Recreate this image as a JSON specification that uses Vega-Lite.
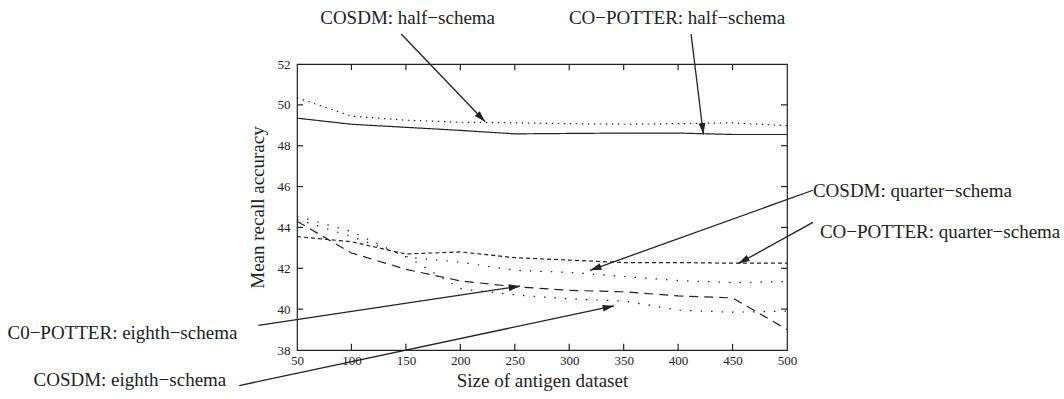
{
  "$schema": "https://vega.github.io/schema/vega-lite/v6.json",
  "width": 490,
  "height": 286,
  "autosize": "none",
  "padding": {"left": 297, "top": 64, "right": 277, "bottom": 49},
  "background": "white",
  "config": {
    "view": {"stroke": "#222", "strokeWidth": 1.2},
    "font": "Liberation Serif",
    "axis": {
      "labelFont": "Liberation Serif",
      "titleFont": "Liberation Serif",
      "labelColor": "#222",
      "titleColor": "#222",
      "labelFontSize": 13,
      "titleFontSize": 19,
      "titleFontWeight": "normal",
      "labelFlush": false,
      "grid": false,
      "domain": false,
      "ticks": false
    }
  },
  "datasets": {
    "results": [
      {"size": 50, "acc": 49.35, "run": "CO−POTTER: half−schema"},
      {"size": 100, "acc": 49.05, "run": "CO−POTTER: half−schema"},
      {"size": 150, "acc": 48.9, "run": "CO−POTTER: half−schema"},
      {"size": 200, "acc": 48.75, "run": "CO−POTTER: half−schema"},
      {"size": 250, "acc": 48.58, "run": "CO−POTTER: half−schema"},
      {"size": 300, "acc": 48.6, "run": "CO−POTTER: half−schema"},
      {"size": 350, "acc": 48.62, "run": "CO−POTTER: half−schema"},
      {"size": 400, "acc": 48.62, "run": "CO−POTTER: half−schema"},
      {"size": 450, "acc": 48.55, "run": "CO−POTTER: half−schema"},
      {"size": 500, "acc": 48.55, "run": "CO−POTTER: half−schema"},
      {"size": 50, "acc": 50.35, "run": "COSDM: half−schema"},
      {"size": 100, "acc": 49.45, "run": "COSDM: half−schema"},
      {"size": 150, "acc": 49.25, "run": "COSDM: half−schema"},
      {"size": 200, "acc": 49.15, "run": "COSDM: half−schema"},
      {"size": 250, "acc": 49.12, "run": "COSDM: half−schema"},
      {"size": 300, "acc": 49.08, "run": "COSDM: half−schema"},
      {"size": 350, "acc": 49.05, "run": "COSDM: half−schema"},
      {"size": 400, "acc": 49.08, "run": "COSDM: half−schema"},
      {"size": 450, "acc": 49.12, "run": "COSDM: half−schema"},
      {"size": 500, "acc": 48.98, "run": "COSDM: half−schema"},
      {"size": 50, "acc": 43.55, "run": "CO−POTTER: quarter−schema"},
      {"size": 100, "acc": 43.3, "run": "CO−POTTER: quarter−schema"},
      {"size": 150, "acc": 42.7, "run": "CO−POTTER: quarter−schema"},
      {"size": 200, "acc": 42.8, "run": "CO−POTTER: quarter−schema"},
      {"size": 250, "acc": 42.52, "run": "CO−POTTER: quarter−schema"},
      {"size": 300, "acc": 42.4, "run": "CO−POTTER: quarter−schema"},
      {"size": 350, "acc": 42.28, "run": "CO−POTTER: quarter−schema"},
      {"size": 400, "acc": 42.28, "run": "CO−POTTER: quarter−schema"},
      {"size": 450, "acc": 42.25, "run": "CO−POTTER: quarter−schema"},
      {"size": 500, "acc": 42.25, "run": "CO−POTTER: quarter−schema"},
      {"size": 50, "acc": 44.55, "run": "COSDM: quarter−schema"},
      {"size": 100, "acc": 43.8, "run": "COSDM: quarter−schema"},
      {"size": 150, "acc": 42.55, "run": "COSDM: quarter−schema"},
      {"size": 200, "acc": 42.3, "run": "COSDM: quarter−schema"},
      {"size": 250, "acc": 41.9, "run": "COSDM: quarter−schema"},
      {"size": 300, "acc": 41.8, "run": "COSDM: quarter−schema"},
      {"size": 350, "acc": 41.6, "run": "COSDM: quarter−schema"},
      {"size": 400, "acc": 41.4, "run": "COSDM: quarter−schema"},
      {"size": 450, "acc": 41.3, "run": "COSDM: quarter−schema"},
      {"size": 500, "acc": 41.35, "run": "COSDM: quarter−schema"},
      {"size": 50, "acc": 44.3, "run": "C0−POTTER: eighth−schema"},
      {"size": 100, "acc": 42.75, "run": "C0−POTTER: eighth−schema"},
      {"size": 150, "acc": 41.95, "run": "C0−POTTER: eighth−schema"},
      {"size": 200, "acc": 41.38, "run": "C0−POTTER: eighth−schema"},
      {"size": 250, "acc": 41.1, "run": "C0−POTTER: eighth−schema"},
      {"size": 300, "acc": 40.92, "run": "C0−POTTER: eighth−schema"},
      {"size": 350, "acc": 40.85, "run": "C0−POTTER: eighth−schema"},
      {"size": 400, "acc": 40.65, "run": "C0−POTTER: eighth−schema"},
      {"size": 450, "acc": 40.55, "run": "C0−POTTER: eighth−schema"},
      {"size": 500, "acc": 39.0, "run": "C0−POTTER: eighth−schema"},
      {"size": 50, "acc": 44.4, "run": "COSDM: eighth−schema"},
      {"size": 100, "acc": 43.55, "run": "COSDM: eighth−schema"},
      {"size": 150, "acc": 42.6, "run": "COSDM: eighth−schema"},
      {"size": 200, "acc": 41.0, "run": "COSDM: eighth−schema"},
      {"size": 250, "acc": 40.7, "run": "COSDM: eighth−schema"},
      {"size": 300, "acc": 40.5, "run": "COSDM: eighth−schema"},
      {"size": 350, "acc": 40.4, "run": "COSDM: eighth−schema"},
      {"size": 400, "acc": 39.95, "run": "COSDM: eighth−schema"},
      {"size": 450, "acc": 39.85, "run": "COSDM: eighth−schema"},
      {"size": 500, "acc": 39.9, "run": "COSDM: eighth−schema"}
    ],
    "sizeTicks": [
      {"size": 100}, {"size": 150}, {"size": 200}, {"size": 250},
      {"size": 300}, {"size": 350}, {"size": 400}, {"size": 450}
    ],
    "accTicks": [
      {"acc": 40}, {"acc": 42}, {"acc": 44}, {"acc": 46}, {"acc": 48}, {"acc": 50}
    ],
    "callouts": [
      {"run": "COSDM: half−schema", "fromSize": 145.7, "fromAcc": 53.47, "toSize": 222.8, "toAcc": 49.17},
      {"run": "CO−POTTER: half−schema", "fromSize": 411.9, "fromAcc": 53.47, "toSize": 423.2, "toAcc": 48.55},
      {"run": "COSDM: quarter−schema", "fromSize": 523.8, "fromAcc": 45.82, "toSize": 319.2, "toAcc": 41.9},
      {"run": "CO−POTTER: quarter−schema", "fromSize": 523.8, "fromAcc": 44.25, "toSize": 455.3, "toAcc": 42.23},
      {"run": "C0−POTTER: eighth−schema", "fromSize": 14.5, "fromAcc": 39.21, "toSize": 254.9, "toAcc": 41.13},
      {"run": "COSDM: eighth−schema", "fromSize": -3.0, "fromAcc": 36.26, "toSize": 341.2, "toAcc": 40.16}
    ],
    "topNotes": [
      {"run": "COSDM: half−schema", "size": 151.6, "acc": 54.25},
      {"run": "CO−POTTER: half−schema", "size": 399.0, "acc": 54.25}
    ],
    "sideNotes": [
      {"run": "COSDM: quarter−schema", "size": 523.8, "acc": 45.79},
      {"run": "CO−POTTER: quarter−schema", "size": 530.2, "acc": 43.78},
      {"run": "C0−POTTER: eighth−schema", "size": -215.9, "acc": 38.81},
      {"run": "COSDM: eighth−schema", "size": -192.0, "acc": 36.51}
    ]
  },
  "layer": [
    {
      "data": {"name": "results"},
      "mark": {"type": "line", "strokeWidth": 1.2, "color": "#222", "clip": false},
      "encoding": {
        "x": {
          "field": "size", "type": "quantitative",
          "scale": {"domain": [50, 500], "nice": false, "zero": false},
          "axis": {"values": [50, 100, 150, 200, 250, 300, 350, 400, 450, 500], "labelPadding": 4, "title": "Size of antigen dataset", "titlePadding": 4}
        },
        "y": {
          "field": "acc", "type": "quantitative",
          "scale": {"domain": [38, 52], "nice": false, "zero": false},
          "axis": {"values": [38, 40, 42, 44, 46, 48, 50, 52], "labelPadding": 7, "title": "Mean recall accuracy", "titlePadding": 10}
        },
        "detail": {"field": "run", "type": "nominal"},
        "strokeDash": {
          "field": "run", "type": "nominal", "legend": null,
          "scale": {
            "domain": ["CO−POTTER: half−schema", "COSDM: half−schema", "CO−POTTER: quarter−schema", "COSDM: quarter−schema", "C0−POTTER: eighth−schema", "COSDM: eighth−schema"],
            "range": [[1, 0], [1.5, 4.5], [4, 3], [1.5, 9], [9, 6], [1.5, 9]]
          }
        }
      }
    },
    {
      "data": {"name": "sizeTicks"},
      "mark": {"type": "rule", "strokeWidth": 1.2, "color": "#222"},
      "encoding": {
        "x": {"field": "size", "type": "quantitative", "axis": null},
        "y": {"datum": 38, "axis": null},
        "y2": {"datum": 38.3}
      }
    },
    {
      "data": {"name": "sizeTicks"},
      "mark": {"type": "rule", "strokeWidth": 1.2, "color": "#222"},
      "encoding": {
        "x": {"field": "size", "type": "quantitative", "axis": null},
        "y": {"datum": 52, "axis": null},
        "y2": {"datum": 51.7}
      }
    },
    {
      "data": {"name": "accTicks"},
      "mark": {"type": "rule", "strokeWidth": 1.2, "color": "#222"},
      "encoding": {
        "y": {"field": "acc", "type": "quantitative", "axis": null},
        "x": {"datum": 50, "axis": null},
        "x2": {"datum": 55.5}
      }
    },
    {
      "data": {"name": "accTicks"},
      "mark": {"type": "rule", "strokeWidth": 1.2, "color": "#222"},
      "encoding": {
        "y": {"field": "acc", "type": "quantitative", "axis": null},
        "x": {"datum": 500, "axis": null},
        "x2": {"datum": 494.5}
      }
    },
    {
      "data": {"name": "callouts"},
      "mark": {"type": "rule", "strokeWidth": 1.3, "color": "#222", "clip": false},
      "encoding": {
        "x": {"field": "fromSize", "type": "quantitative", "axis": null},
        "y": {"field": "fromAcc", "type": "quantitative", "axis": null},
        "x2": {"field": "toSize"},
        "y2": {"field": "toAcc"}
      }
    },
    {
      "data": {"name": "callouts"},
      "mark": {"type": "point", "shape": "M0,0L-0.3,1L0.3,1Z", "filled": true, "color": "#222", "opacity": 1, "size": 520, "clip": false},
      "encoding": {
        "x": {"field": "toSize", "type": "quantitative", "axis": null},
        "y": {"field": "toAcc", "type": "quantitative", "axis": null},
        "angle": {
          "field": "run", "type": "nominal", "legend": null,
          "scale": {
            "type": "ordinal",
            "domain": ["COSDM: half−schema", "CO−POTTER: half−schema", "COSDM: quarter−schema", "CO−POTTER: quarter−schema", "C0−POTTER: eighth−schema", "COSDM: eighth−schema"],
            "range": [136.2, 173, 250.3, 241.1, 81.5, 78]
          }
        }
      }
    },
    {
      "data": {"name": "topNotes"},
      "mark": {"type": "text", "align": "center", "baseline": "middle", "fontSize": 19, "font": "Liberation Serif", "color": "#222", "clip": false},
      "encoding": {
        "x": {"field": "size", "type": "quantitative", "axis": null},
        "y": {"field": "acc", "type": "quantitative", "axis": null},
        "text": {"field": "run"}
      }
    },
    {
      "data": {"name": "sideNotes"},
      "mark": {"type": "text", "align": "left", "baseline": "middle", "fontSize": 19, "font": "Liberation Serif", "color": "#222", "clip": false},
      "encoding": {
        "x": {"field": "size", "type": "quantitative", "axis": null},
        "y": {"field": "acc", "type": "quantitative", "axis": null},
        "text": {"field": "run"}
      }
    }
  ],
  "resolve": {"axis": {"x": "independent", "y": "independent"}}
}
